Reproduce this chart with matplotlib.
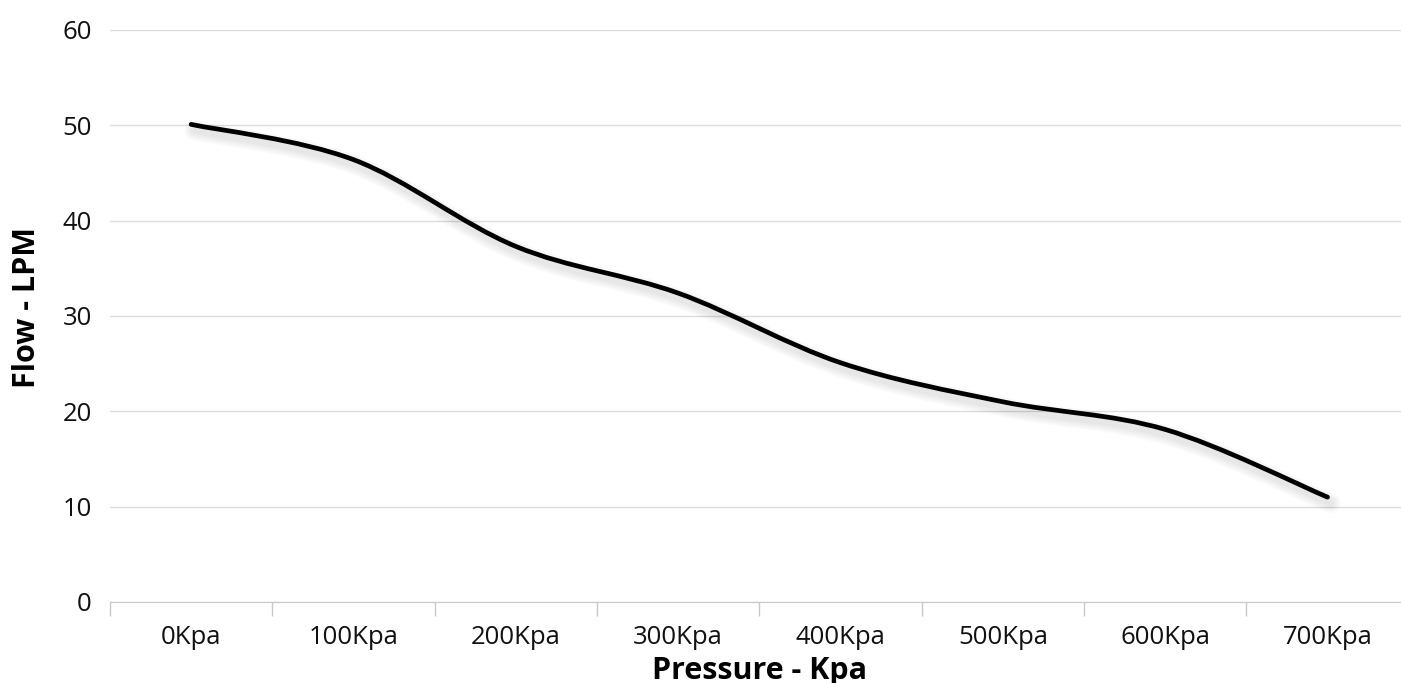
import matplotlib.pyplot as plt
import matplotlib.transforms as mtransforms
from matplotlib.path import Path
from matplotlib.patches import PathPatch

# Дані кривої
pressure = ["0Kpa", "100Kpa", "200Kpa", "300Kpa", "400Kpa", "500Kpa", "600Kpa", "700Kpa"]
flow = [50.1, 46.4, 37.3, 32.4, 25.1, 21.0, 18.1, 11.0]
y_ticks = [0, 10, 20, 30, 40, 50, 60]

plt.rcParams['font.family'] = ['Open Sans', 'DejaVu Sans']

fig = plt.figure(figsize=(14.01, 6.83), dpi=100)
ax = fig.add_axes([0.0785, 0.1186, 0.927, 0.8375])

x = list(range(len(flow)))

# Згладжена лінія як у Excel (кубічні криві Безьє)
verts = [(x[0], flow[0])]
codes = [Path.MOVETO]
n = len(flow)
for i in range(n - 1):
    p0 = (x[max(i - 1, 0)], flow[max(i - 1, 0)])
    p1 = (x[i], flow[i])
    p2 = (x[i + 1], flow[i + 1])
    p3 = (x[min(i + 2, n - 1)], flow[min(i + 2, n - 1)])
    c1 = (p1[0] + (p2[0] - p0[0]) / 6, p1[1] + (p2[1] - p0[1]) / 6)
    c2 = (p2[0] - (p3[0] - p1[0]) / 6, p2[1] - (p3[1] - p1[1]) / 6)
    verts += [c1, c2, p2]
    codes += [Path.CURVE4] * 3
path = Path(verts, codes)

# м'яка тінь під лінією
shift = mtransforms.ScaledTranslation(3 / 100, -6 / 100, fig.dpi_scale_trans)
for w in [14, 11, 8, 5]:
    sh = PathPatch(path, fill=False, edgecolor='black', lw=w, alpha=0.025,
                   capstyle='round', joinstyle='round', zorder=2)
    sh.set_transform(ax.transData + shift)
    ax.add_patch(sh)

line = PathPatch(path, fill=False, edgecolor='black', lw=3.4, capstyle='round', zorder=3)
ax.add_patch(line)

ax.set_xlim(-0.5, len(pressure) - 0.5)
ax.set_ylim(0, 60)
ax.set_yticks(y_ticks)
ax.set_xticks(x)
ax.set_xticklabels(pressure)
ax.set_xticks([i - 0.5 for i in range(len(pressure) + 1)], minor=True)
ax.tick_params(axis='x', which='major', length=0, labelsize=18.5, pad=16.5, colors='#111111')
ax.tick_params(axis='x', which='minor', length=10, color='#c8c8c8', width=1)
ax.tick_params(axis='y', length=0, labelsize=18.5, pad=13, colors='#111111')

ax.grid(axis='y', color='#dcdcdc', lw=1)
ax.set_axisbelow(True)
for s in ['top', 'right', 'left']:
    ax.spines[s].set_visible(False)
ax.spines['bottom'].set_color('#c8c8c8')

ax.set_xlabel("Pressure - Kpa", fontsize=22, fontweight='bold')
ax.xaxis.set_label_coords(0.5, -0.094)
ax.set_ylabel("Flow - LPM", fontsize=22, fontweight='bold')
ax.yaxis.set_label_coords(-0.052, 0.514)

fig.savefig("out.png", dpi=100)
